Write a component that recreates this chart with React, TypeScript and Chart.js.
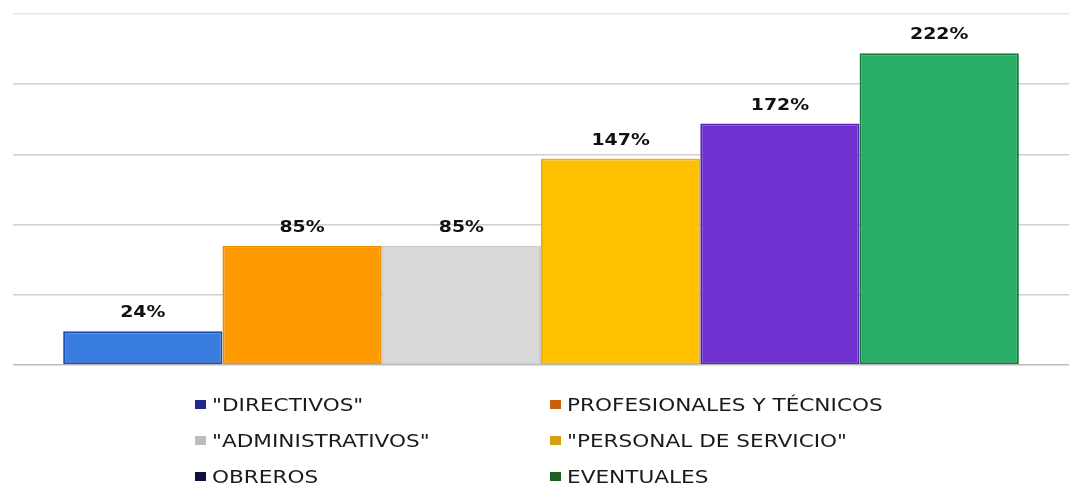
import React, { useEffect, useRef } from "react";
import { Chart, registerables } from "chart.js";

Chart.register(...registerables);

const categories = [""];
const seriesNames = [
  "\"DIRECTIVOS\"",
  "PROFESIONALES Y TÉCNICOS",
  "\"ADMINISTRATIVOS\"",
  "\"PERSONAL DE SERVICIO\"",
  "OBREROS",
  "EVENTUALES",
];
const seriesValues = [24, 85, 85, 147, 172, 222];
const barColors = ["#3a7de0", "#ff9a00", "#d9d9d9", "#ffc000", "#7030d0", "#28ac66"];
const barBorders = ["#1a4fb0", "#f08c00", "#cccccc", "#f2b400", "#5a22b4", "#157a3e"];
const legendColors = ["#1f2a8a", "#c8600e", "#bdbdbd", "#d4a010", "#101040", "#1d5e22"];
const yTicks = [0, 50, 100, 150, 200, 250];

const labelPlugin = {
  id: "valueLabels",
  afterDatasetsDraw(chart: any) {
    const ctx = chart.ctx;
    chart.data.datasets.forEach((ds: any, i: number) => {
      const meta = chart.getDatasetMeta(i);
      meta.data.forEach((bar: any, j: number) => {
        const v = ds.data[j];
        ctx.save();
        ctx.translate(bar.x, bar.y - 18);
        ctx.scale(1.18, 1);
        ctx.font = "bold 16px 'DejaVu Sans'";
        ctx.fillStyle = "#111111";
        ctx.textAlign = "center";
        ctx.textBaseline = "middle";
        ctx.fillText(v + "%", 0, 0);
        ctx.restore();
      });
    });
  },
};

export default function App() {
  const ref = useRef<HTMLCanvasElement>(null);
  useEffect(() => {
    if (!ref.current) return;
    const chart = new Chart(ref.current, {
      type: "bar",
      data: {
        labels: categories,
        datasets: seriesNames.map((name, i) => ({
          label: name,
          data: [seriesValues[i]],
          backgroundColor: barColors[i],
          borderColor: barBorders[i],
          borderWidth: 2,
          borderSkipped: false,
          categoryPercentage: 0.905,
          barPercentage: 1,
        })),
      },
      options: {
        responsive: false,
        animation: false,
        layout: { padding: { left: 13, top: 14, right: 0, bottom: 122 } },
        plugins: { legend: { display: false }, tooltip: { enabled: false } },
        scales: {
          x: { display: false },
          y: {
            min: 0,
            max: 250,
            afterBuildTicks: (s: any) => {
              s.ticks = yTicks.map((v) => ({ value: v }));
            },
            afterFit: (s: any) => {
              s.width = 0;
            },
            ticks: { display: false },
            border: { display: false },
            grid: {
              color: (c: any) => (c.tick && c.tick.value === 250 ? "#e6e6e6" : c.tick && c.tick.value === 0 ? "#bdbdbd" : "#cfcfcf"),
              lineWidth: 1.5,
              drawTicks: false,
            },
          },
        },
      },
      plugins: [labelPlugin],
    });
    return () => chart.destroy();
  }, []);

  const colLeft = [195, 550];
  const rowY = [404, 440, 476];

  return (
    <div style={{ position: "fixed", left: 0, top: 0, width: 1069, height: 487, background: "#fff" }}>
      <canvas ref={ref} width={1069} height={487} style={{ position: "absolute", left: 0, top: 0 }} />
      {seriesNames.map((name, i) => {
        const col = i % 2;
        const row = Math.floor(i / 2);
        return (
          <div
            key={i}
            style={{
              position: "absolute",
              left: colLeft[col],
              top: rowY[row] - 11,
              height: 22,
              display: "flex",
              alignItems: "center",
              whiteSpace: "nowrap",
            }}
          >
            <span style={{ width: 11, height: 9, background: legendColors[i], display: "inline-block", marginRight: 6 }} />
            <span
              style={{
                fontFamily: "'DejaVu Sans'",
                fontSize: 18,
                color: "#1a1a1a",
                display: "inline-block",
                transform: "scaleX(1.2)",
                transformOrigin: "left center",
              }}
            >
              {name}
            </span>
          </div>
        );
      })}
    </div>
  );
}
